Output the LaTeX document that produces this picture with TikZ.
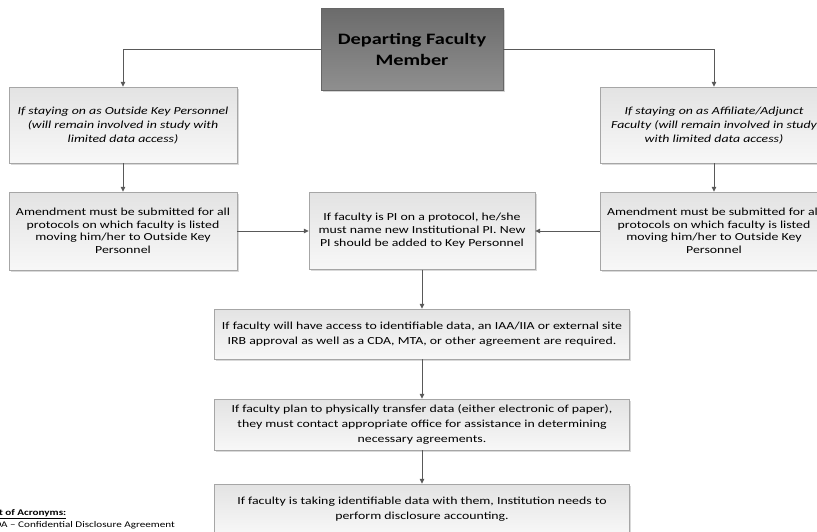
\documentclass[tikz,border=0pt]{standalone}
\usepackage{fontspec}
\setmainfont{Carlito}[FakeStretch=1.28]
\usepackage{tikz}
\usetikzlibrary{arrows.meta}
\usetikzlibrary{shadows}
\usetikzlibrary{positioning}

\begin{document}
\begin{tikzpicture}[x=1pt, y=-1pt,
    every node/.style={align=center, inner sep=2pt},
    headbox/.style={draw=black!60, top color=black!58, bottom color=black!44,
      minimum width=182pt, minimum height=82pt,
      font=\fontsize{15.9}{21}\selectfont\bfseries,
      drop shadow={opacity=0.35, shadow xshift=1.5pt, shadow yshift=-1.5pt}},
    stepbox/.style={draw=black!35, top color=black!11, bottom color=black!3,
      font=\fontsize{10.8}{12.5}\selectfont,
      drop shadow={opacity=0.3, shadow xshift=1.5pt, shadow yshift=-1.5pt}},
    itbox/.style={stepbox, font=\fontsize{10.8}{14}\selectfont\itshape},
    arr/.style={draw=black!65, line width=1pt, -{Triangle[length=5pt, width=4.5pt]}}]
          \useasboundingbox (0,0) rectangle (817,531);

          \node[headbox] (dep) at (412, 49) {Departing Faculty\\Member};

          \node[itbox, minimum width=228pt, minimum height=76pt] (okp) at (123, 125)
            {If staying on as Outside Key Personnel\\(will remain involved in study with\\limited data access)};
          \node[itbox, minimum width=228pt, minimum height=76pt] (aff) at (714, 125)
            {If staying on as Affiliate/Adjunct\\Faculty (will remain involved in study\\with limited data access)};

          \node[stepbox, minimum width=228pt, minimum height=78pt] (amdl) at (123, 231)
            {Amendment must be submitted for all\\protocols on which faculty is listed\\moving him/her to Outside Key\\Personnel};
          \node[stepbox, minimum width=228pt, minimum height=78pt] (amdr) at (714, 231)
            {Amendment must be submitted for all\\protocols on which faculty is listed\\moving him/her to Outside Key\\Personnel};

          \node[stepbox, font=\fontsize{10.8}{13}\selectfont, minimum width=226pt, minimum height=77pt] (newpi) at (422, 231)
            {If faculty is PI on a protocol, he/she\\must name new Institutional PI. New\\PI should be added to Key Personnel};

          \node[stepbox, font=\fontsize{10.8}{15.3}\selectfont, minimum width=415pt, minimum height=50pt] (access) at (422, 334)
            {If faculty will have access to identifiable data, an IAA/IIA or external site\\IRB approval as well as a CDA, MTA, or other agreement are required.};
          \node[stepbox, font=\fontsize{10.8}{15.3}\selectfont, minimum width=415pt, minimum height=51pt] (transfer) at (422, 424.5)
            {If faculty plan to physically transfer data (either electronic of paper),\\they must contact appropriate office for assistance in determining\\necessary agreements.};
          \node[stepbox, font=\fontsize{10.8}{15.3}\selectfont, minimum width=415pt, minimum height=50pt] (disclose) at (422, 509)
            {If faculty is taking identifiable data with them, Institution needs to\\perform disclosure accounting.};

          % acronym list, cut by the left edge
          \node[font=\fontsize{8.7}{10}\selectfont\bfseries, anchor=base east, inner sep=0pt] (acrhead) at (66.5, 515) {\underline{List of Acronyms:}};
          \node[font=\fontsize{8.7}{10}\selectfont, anchor=base east, inner sep=0pt] (acrcda) at (175, 527) {CDA -- Confidential Disclosure Agreement};

          \draw[arr] (dep.west) -| (okp.north);
          \draw[arr] (dep.east) -| (aff.north);
          \draw[arr] (okp) -- (amdl);
          \draw[arr] (aff) -- (amdr);
          \draw[arr] (amdl) -- (newpi);
          \draw[arr] (amdr) -- (newpi);
          \draw[arr] (newpi) -- (access);
          \draw[arr] (access) -- (transfer);
          \draw[arr] (transfer) -- (disclose);
        \end{tikzpicture}
\end{document}
